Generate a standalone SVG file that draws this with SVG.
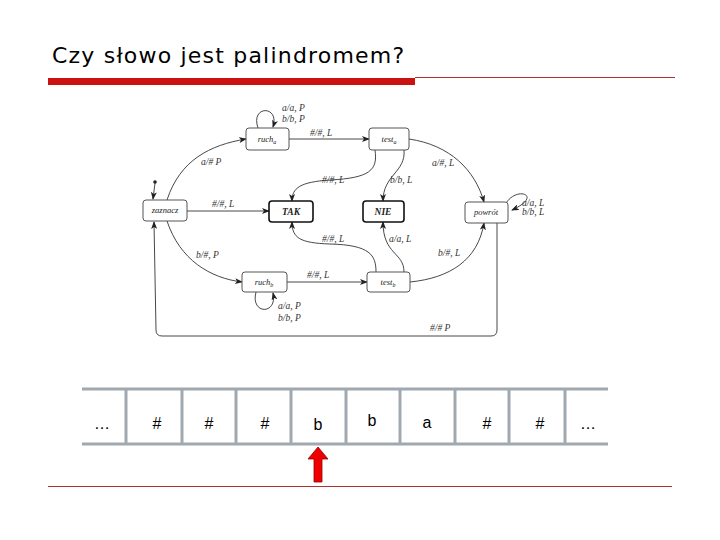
<svg xmlns="http://www.w3.org/2000/svg" width="720" height="540" viewBox="0 0 720 540">
<style>
.n rect{fill:#fff;stroke:#555;stroke-width:1}
.n.b rect{stroke:#111;stroke-width:1.6}
.n text{font-family:"Liberation Serif",serif;font-style:italic;font-size:8.5px;text-anchor:middle;fill:#222}
.n.b text{font-weight:bold;font-size:9.5px}
.e path{fill:none;stroke:#333;stroke-width:0.9;marker-end:url(#ah)}
.l{font-family:"Liberation Serif",serif;font-style:italic;font-size:9.5px;fill:#333}
.t{font-family:"Liberation Sans",sans-serif;font-size:16px;text-anchor:middle;fill:#000}
</style>
<defs>
<marker id="ah" markerWidth="8" markerHeight="6" refX="7" refY="3" orient="auto" markerUnits="userSpaceOnUse"><path d="M0,0 L8,3 L0,6 L2,3 Z" fill="#222"/></marker>
</defs>
<rect width="720" height="540" fill="#fff"/>
<text x="52" y="63" font-family="'DejaVu Sans',sans-serif" font-size="22" letter-spacing="1.2" fill="#000">Czy słowo jest palindromem?</text>
<rect x="48" y="78" width="367" height="7" fill="#cc1111"/>
<line x1="415" y1="77.5" x2="675" y2="77.5" stroke="#b03030" stroke-width="1"/>

<g id="connectors" class="e">
<circle cx="155" cy="182" r="1.8" fill="#222"/>
<path d="M155,183 L153,199"/>
<path d="M167,200 C180,160 210,145 246,139"/>
<path d="M258,128 C250,105 280,105 273,127"/>
<path d="M289,139 L369,139"/>
<path d="M409,139 C450,145 475,170 484,202"/>
<path d="M375,150 C378,170 370,178 330,180 C300,182 292,188 292,201"/>
<path d="M404,150 C406,172 383,175 383,201"/>
<path d="M187,211 L269,211"/>
<path d="M505,205 C515,185 545,195 512,210"/>
<path d="M376,272 C376,255 370,245 330,244 C300,243 292,238 292,222"/>
<path d="M404,272 C404,252 383,255 383,222"/>
<path d="M410,282 C450,278 478,260 484,223"/>
<path d="M167,221 C180,260 210,278 242,282"/>
<path d="M287,282 L367,282"/>
<path d="M256,292 C250,315 278,315 273,293"/>
<path d="M497,223 L497,330 Q497,336 491,336 L162,336 Q156,336 156,330 L154,222"/>
</g>
<g class="l">
<text x="201" y="165">a/# P</text>
<text x="282" y="111">a/a, P</text>
<text x="282" y="122">b/b, P</text>
<text x="310" y="136">#/#, L</text>
<text x="432" y="166">a/#, L</text>
<text x="322" y="183">#/#, L</text>
<text x="390" y="183">b/b, L</text>
<text x="212" y="207">#/#, L</text>
<text x="522" y="206">a/a, L</text>
<text x="522" y="215">b/b, L</text>
<text x="322" y="242">#/#, L</text>
<text x="389" y="242">a/a, L</text>
<text x="438" y="256">b/#, L</text>
<text x="196" y="258">b/#, P</text>
<text x="307" y="278">#/#, L</text>
<text x="278" y="309">a/a, P</text>
<text x="278" y="321">b/b, P</text>
<text x="430" y="331">#/# P</text>
</g>

<g id="zaznacz" class="n"><rect x="143" y="200" width="44" height="21" rx="3"/><text x="165" y="213">zaznacz</text></g>
<g id="rucha" class="n"><rect x="246" y="128" width="43" height="22" rx="3"/><text x="267" y="142">ruch<tspan font-size="6" dy="2">a</tspan></text></g>
<g id="testa" class="n"><rect x="369" y="128" width="40" height="22" rx="3"/><text x="389" y="142">test<tspan font-size="6" dy="2">a</tspan></text></g>
<g id="TAK" class="n b"><rect x="269" y="201" width="44" height="21" rx="3"/><text x="291" y="215">TAK</text></g>
<g id="NIE" class="n b"><rect x="363" y="201" width="41" height="21" rx="3"/><text x="383" y="215">NIE</text></g>
<g id="powrot" class="n"><rect x="465" y="202" width="43" height="21" rx="3"/><text x="486" y="215">powrót</text></g>
<g id="ruchb" class="n"><rect x="242" y="272" width="45" height="20" rx="3"/><text x="264" y="285">ruch<tspan font-size="6" dy="2">b</tspan></text></g>
<g id="testb" class="n"><rect x="367" y="272" width="43" height="20" rx="3"/><text x="388" y="285">test<tspan font-size="6" dy="2">b</tspan></text></g>

<g id="tape" stroke="#a0a8b0" stroke-width="3">
<line x1="82" y1="389" x2="608" y2="389"/>
<line x1="82" y1="444" x2="608" y2="444"/>
<line x1="126" y1="389" x2="126" y2="444"/>
<line x1="182" y1="389" x2="182" y2="444"/>
<line x1="236" y1="389" x2="236" y2="444"/>
<line x1="291" y1="389" x2="291" y2="444"/>
<line x1="346" y1="389" x2="346" y2="444"/>
<line x1="400" y1="389" x2="400" y2="444"/>
<line x1="455" y1="389" x2="455" y2="444"/>
<line x1="509" y1="389" x2="509" y2="444"/>
<line x1="565" y1="389" x2="565" y2="444"/>
</g>
<g>
<text class="t" x="102" y="429" font-size="13">…</text>
<text class="t" x="157" y="429" font-size="14">#</text>
<text class="t" x="209" y="429" font-size="14">#</text>
<text class="t" x="265" y="429" font-size="14">#</text>
<text class="t" x="318" y="430">b</text>
<text class="t" x="372" y="426">b</text>
<text class="t" x="427" y="428">a</text>
<text class="t" x="487" y="429" font-size="14">#</text>
<text class="t" x="540" y="429" font-size="14">#</text>
<text class="t" x="588" y="429" font-size="13">…</text>
</g>
<polygon points="318,447 328,459 322,459 322,482 314,482 314,459 308,459" fill="#ee0000" stroke="#990000" stroke-width="0.8"/>
<line x1="48" y1="486.5" x2="672" y2="486.5" stroke="#b03030" stroke-width="1"/>
</svg>
